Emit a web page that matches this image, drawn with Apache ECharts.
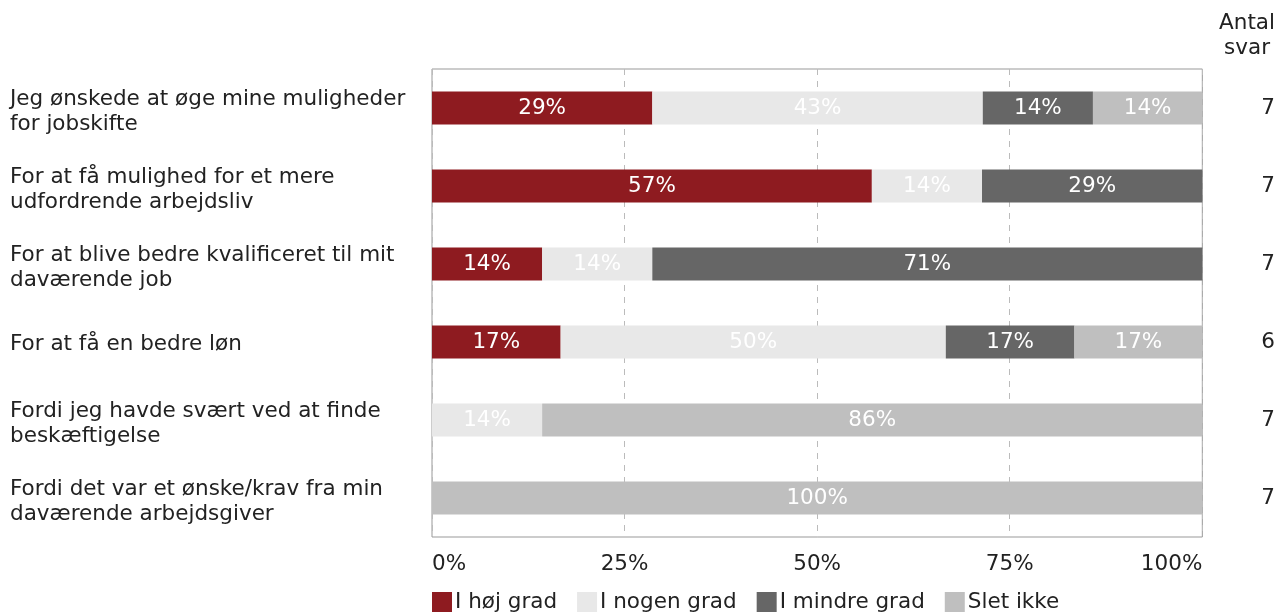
<!DOCTYPE html>
<html>
<head>
<meta charset="utf-8">
<script src="https://cdn.jsdelivr.net/npm/echarts@6/dist/echarts.min.js"></script>
<style>
  html, body { margin: 0; padding: 0; background: #fff; }
  #chart { width: 1278px; height: 614px; }
</style>
</head>
<body>
<div id="chart"></div>
<script>
// data
const categories = [
    'Jeg ønskede at øge mine muligheder\nfor jobskifte',
    'For at få mulighed for et mere\nudfordrende arbejdsliv',
    'For at blive bedre kvalificeret til mit\ndaværende job',
    'For at få en bedre løn',
    'Fordi jeg havde svært ved at finde\nbeskæftigelse',
    'Fordi det var et ønske/krav fra min\ndaværende arbejdsgiver'
];
const antalSvar = ['7', '7', '7', '6', '7', '7'];
const seriesNames = ['I høj grad', 'I nogen grad', 'I mindre grad', 'Slet ikke'];
const hoejGrad = [28.6, 57.1, 14.3, 16.7, 0, 0];
const nogenGrad = [42.9, 14.3, 14.3, 50.0, 14.3, 0];
const mindreGrad = [14.3, 28.6, 71.4, 16.7, 0, 0];
const sletIkke = [14.3, 0, 0, 16.7, 85.7, 100];
const xTicks = [0, 25, 50, 75, 100];

const colors = ['#8E1B20', '#E8E8E8', '#666666', '#BFBFBF'];
const font = 'Verdana, "DejaVu Sans", sans-serif';
const fs = 21.5;

const chart = echarts.init(document.getElementById('chart'));

function makeSeries(name, data, i) {
    return {
        name: name,
        type: 'bar',
        stack: 'total',
        barWidth: 33,
        data: data,
        itemStyle: { color: colors[i] },
        label: {
            show: true,
            position: 'inside',
            color: '#fff',
            fontSize: fs,
            fontFamily: font,
            formatter: function (p) {
                return p.value > 0 ? Math.round(p.value) + '%' : '';
            }
        },
        emphasis: { disabled: true }
    };
}

// nudge the category text a little lower, like the reference
function catLabel(v) {
    const lines = v.split('\n');
    if (lines.length === 1) return '{s|' + v + '}';
    return lines.map(function (l, i) { return (i === 0 ? '{f|' : '{t|') + l + '}'; }).join('\n');
}
const txt = { fontSize: fs, color: '#222', fontFamily: font };

const option = {
    animation: false,
    textStyle: { fontFamily: font },
    grid: {
        left: 432,
        right: 75,
        top: 69,
        bottom: 77,
        show: true,
        borderColor: '#999',
        borderWidth: 1,
        containLabel: false
    },
    legend: {
        left: 427,
        top: 586,
        itemWidth: 20,
        itemHeight: 20,
        itemGap: 20,
        icon: 'rect',
        textStyle: { fontSize: fs, color: '#222', fontFamily: font, padding: [0, 0, 0, -2] },
        data: seriesNames
    },
    graphic: [{
        type: 'text',
        x: 1247,
        y: 11,
        style: {
            text: 'Antal\nsvar',
            align: 'center',
            fontSize: fs,
            lineHeight: 25,
            fill: '#222',
            fontFamily: font
        }
    }],
    xAxis: {
        type: 'value',
        min: 0,
        max: 100,
        interval: 25,
        axisLine: { show: false },
        axisTick: { show: false },
        splitLine: {
            show: true,
            lineStyle: { color: '#bbbbbb', type: [6, 6], width: 1 }
        },
        axisLabel: {
            margin: 16,
            fontSize: fs,
            color: '#222',
            fontFamily: font,
            alignMinLabel: 'left',
            alignMaxLabel: 'right',
            formatter: function (v) { return xTicks.indexOf(v) >= 0 ? v + '%' : ''; }
        }
    },
    yAxis: [{
        type: 'category',
        inverse: true,
        data: categories,
        axisLine: { show: false },
        axisTick: { show: false },
        axisLabel: {
            margin: 422,
            align: 'left',
            fontSize: fs,
            color: '#222',
            fontFamily: font,
            formatter: catLabel,
            rich: {
                f: Object.assign({ padding: [7, 0, 0, 0] }, txt),
                t: Object.assign({ padding: [3, 0, 0, 0] }, txt),
                s: Object.assign({ padding: [4, 0, 0, 0] }, txt)
            }
        }
    }, {
        type: 'category',
        inverse: true,
        position: 'right',
        data: antalSvar,
        axisLine: { show: false },
        axisTick: { show: false },
        axisLabel: {
            margin: 59,
            align: 'left',
            fontSize: fs,
            color: '#222',
            fontFamily: font
        }
    }],
    series: [
        makeSeries(seriesNames[0], hoejGrad, 0),
        makeSeries(seriesNames[1], nogenGrad, 1),
        makeSeries(seriesNames[2], mindreGrad, 2),
        makeSeries(seriesNames[3], sletIkke, 3)
    ]
};

chart.setOption(option);
</script>
</body>
</html>
